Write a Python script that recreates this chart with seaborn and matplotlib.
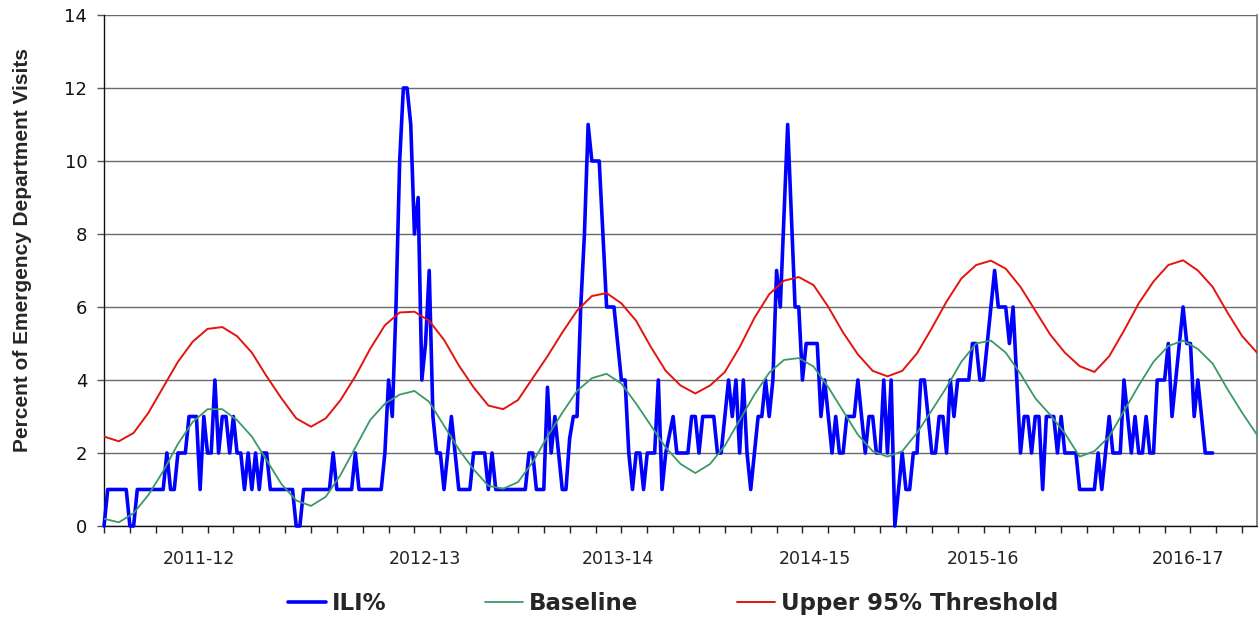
import numpy as np
import matplotlib
matplotlib.use("Agg")
import matplotlib.pyplot as plt
import seaborn as sns

# weekly ILI% (one value per week, starting at week 0 of the 2011-12 season)
ili_pct = [
    # 2011-12
    0, 1, 1, 1, 1, 1, 1, 0, 0, 1, 1, 1, 1, 1, 1, 1, 1, 2, 1, 1,
    2, 2, 2, 3, 3, 3, 1, 3, 2, 2, 4, 2, 3, 3, 2, 3, 2, 2, 1, 2,
    1, 2, 1, 2, 2, 1, 1, 1, 1, 1, 1, 1,
    # 2012-13
    0, 0, 1, 1, 1, 1, 1, 1, 1, 1, 2, 1, 1, 1, 1, 1, 2, 1, 1, 1,
    1, 1, 1, 1, 2, 4, 3, 6, 10, 12, 12, 11, 8, 9, 4, 5, 7, 3, 2, 2,
    1, 2, 3, 2, 1, 1, 1, 1, 2, 2, 2, 2,
    # 2013-14
    1, 2, 1, 1, 1, 1, 1, 1, 1, 1, 1, 2, 2, 1, 1, 1, 3.8, 2, 3, 2,
    1, 1, 2.4, 3, 3, 6, 8, 11, 10, 10, 10, 8, 6, 6, 6, 5, 4, 4, 2, 1,
    2, 2, 1, 2, 2, 2, 4, 1, 2, 2.5, 3, 2,
    # 2014-15
    2, 2, 2, 3, 3, 2, 3, 3, 3, 3, 2, 2, 3, 4, 3, 4, 2, 4, 2, 1,
    2, 3, 3, 4, 3, 4, 7, 6, 8.5, 11, 8.5, 6, 6, 4, 5, 5, 5, 5, 3, 4,
    3, 2, 3, 2, 2, 3, 3, 3, 4, 3, 2, 3,
    # 2015-16
    3, 2, 2, 4, 2, 4, 0, 1, 2, 1, 1, 2, 2, 4, 4, 3, 2, 2, 3, 3,
    2, 4, 3, 4, 4, 4, 4, 5, 5, 4, 4, 5, 6, 7, 6, 6, 6, 5, 6, 4,
    2, 3, 3, 2, 3, 3, 1, 3, 3, 3, 2, 3,
    # 2016-17
    2, 2, 2, 2, 1, 1, 1, 1, 1, 2, 1, 2, 3, 2, 2, 2, 4, 3, 2, 3,
    2, 2, 3, 2, 2, 4, 4, 4, 5, 3, 4, 5, 6, 5, 5, 3, 4, 3, 2, 2, 2,
]

# baseline and threshold read every 4 weeks
curve_weeks = list(range(0, 313, 4))
baseline = [
    0.2, 0.1, 0.35, 0.85, 1.5, 2.25, 2.85, 3.2, 3.2, 2.9,
    2.45, 1.8, 1.15, 0.7, 0.55, 0.8, 1.4, 2.15, 2.9, 3.35,
    3.6, 3.7, 3.4, 2.75, 2.1, 1.55, 1.1, 1.02, 1.2, 1.75,
    2.45, 3.1, 3.7, 4.05, 4.17, 3.9, 3.35, 2.75, 2.15, 1.7,
    1.45, 1.7, 2.2, 2.9, 3.6, 4.2, 4.55, 4.6, 4.37, 3.8,
    3.15, 2.5, 2.05, 1.9, 2.05, 2.55, 3.17, 3.8, 4.5, 5.0,
    5.08, 4.75, 4.17, 3.5, 3.05, 2.54, 1.9, 2.05, 2.45, 3.15,
    3.85, 4.5, 4.93, 5.08, 4.85, 4.45, 3.75, 3.1, 2.5,
]
threshold = [
    2.45, 2.32, 2.55, 3.1, 3.8, 4.5, 5.05, 5.4, 5.45, 5.2,
    4.75, 4.1, 3.5, 2.95, 2.72, 2.95, 3.45, 4.1, 4.85, 5.5,
    5.85, 5.87, 5.62, 5.1, 4.4, 3.8, 3.3, 3.2, 3.45, 4.05,
    4.65, 5.3, 5.9, 6.3, 6.38, 6.1, 5.62, 4.9, 4.25, 3.85,
    3.63, 3.85, 4.22, 4.9, 5.7, 6.35, 6.72, 6.82, 6.6, 6.0,
    5.3, 4.7, 4.25, 4.1, 4.25, 4.73, 5.42, 6.15, 6.78, 7.15,
    7.27, 7.05, 6.55, 5.9, 5.25, 4.75, 4.38, 4.22, 4.65, 5.35,
    6.1, 6.7, 7.15, 7.28, 7.0, 6.55, 5.85, 5.2, 4.75,
]

seasons = ["2011-12", "2012-13", "2013-14", "2014-15", "2015-16", "2016-17"]
season_label_pos = [25.6, 86.8, 139, 192.4, 237.8, 293.4]
n_weeks = 313

sns.set_theme(style="white")
plt.rcParams["font.family"] = ["DejaVu Sans"]

fig = plt.figure(figsize=(12.58, 6.17), dpi=100)
ax = fig.add_axes([0.0827, 0.1475, 0.9165, 0.8282])

weeks = np.arange(len(ili_pct))
sns.lineplot(x=weeks, y=ili_pct, ax=ax, color="#0000FF", linewidth=2.6, label="ILI%",
             clip_on=False, zorder=3)
sns.lineplot(x=curve_weeks, y=baseline, ax=ax, color="#3A9A66", linewidth=1.3,
             label="Baseline", zorder=4)
sns.lineplot(x=curve_weeks, y=threshold, ax=ax, color="#E3140E", linewidth=1.4,
             label="Upper 95% Threshold", zorder=4)

ax.set_xlim(0, n_weeks - 1)
ax.set_ylim(0, 14)

# y axis
ax.set_yticks(range(0, 15, 2))
ax.tick_params(axis="y", which="major", left=True, length=5, width=1, color="#555555",
               labelsize=13, pad=7, labelcolor="#111111")
ax.yaxis.grid(True, color="#6a6a6a", linewidth=1)
ax.set_axisbelow(True)
ax.set_ylabel("Percent of Emergency Department Visits", fontsize=15, fontweight="bold",
              family=["Liberation Sans", "DejaVu Sans"])
ax.yaxis.set_label_coords(-0.0625, 0.54)

# x axis: tick marks every 7 weeks, season names in between
ax.set_xticks(range(0, n_weeks, 7))
ax.set_xticklabels([])
ax.set_xticks(season_label_pos, minor=True)
ax.set_xticklabels(seasons, minor=True)
ax.tick_params(axis="x", which="major", bottom=True, length=5, width=1, color="#222222",
               direction="out")
ax.tick_params(axis="x", which="minor", bottom=True, length=0, labelsize=12.5, pad=17,
               labelcolor="#222222")
ax.set_xlabel("")

for side in ["left", "bottom"]:
    ax.spines[side].set_color("#111111")
    ax.spines[side].set_linewidth(1)
ax.spines["right"].set_color("#777777")
ax.spines["top"].set_visible(False)

handles, labels = ax.get_legend_handles_labels()
ax.get_legend().remove()
fig.legend(handles, labels, loc="center", bbox_to_anchor=(0.535, 0.022), ncol=3,
           frameon=False, handlelength=1.66, handletextpad=0.25, columnspacing=4.3,
           prop={"size": 16.5, "weight": "bold"}, borderpad=0)

fig.savefig("out.png", dpi=100)
